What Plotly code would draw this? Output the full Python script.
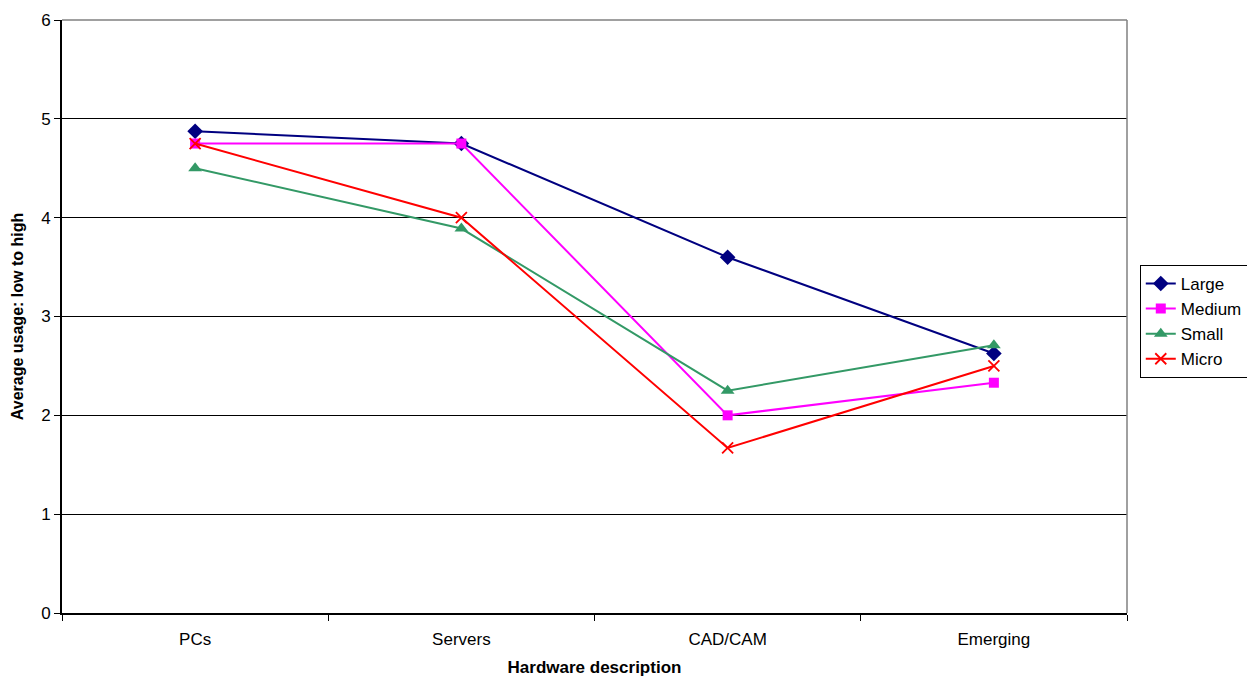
import plotly.graph_objects as go

categories = ["PCs", "Servers", "CAD/CAM", "Emerging"]
large = [4.875, 4.75, 3.6, 2.625]
medium = [4.75, 4.75, 2.0, 2.33]
small = [4.5, 3.89, 2.25, 2.71]
micro = [4.75, 4.0, 1.67, 2.5]
y_ticks = [0, 1, 2, 3, 4, 5, 6]

series = [
    ("Large", large, "#000080", "diamond", 12),
    ("Medium", medium, "#FF00FF", "square", 10),
    ("Small", small, "#339966", "triangle-up", 12),
    ("Micro", micro, "#FF0000", "x-thin", 11),
]

fig = go.Figure()
for name, vals, color, sym, sz in series:
    marker = dict(symbol=sym, size=sz, color=color)
    if sym == "x-thin":
        marker["line"] = dict(color=color, width=1.8)
    fig.add_trace(go.Scatter(
        x=categories, y=vals, name=name, mode="lines+markers",
        line=dict(color=color, width=2), marker=marker,
    ))

font = "Liberation Sans, Arial, sans-serif"
fig.update_layout(
    width=1247, height=677,
    margin=dict(l=62, r=120, t=20, b=64, autoexpand=False),
    paper_bgcolor="white", plot_bgcolor="white",
    font=dict(family=font, size=17, color="black"),
    showlegend=True,
    legend=dict(x=1.012, y=0.587, xanchor="left", yanchor="top",
                bordercolor="black", borderwidth=1, bgcolor="white",
                font=dict(size=17), tracegroupgap=0, itemwidth=30),
    xaxis=dict(
        type="category", range=[-0.5, 3.5], showgrid=False,
        tickson="boundaries", ticks="outside", ticklen=6, tickcolor="black",
        showline=True, linecolor="black", linewidth=2,
        ticklabelstandoff=10,
        title=dict(text="<b>Hardware description</b>", standoff=14, font=dict(size=17)),
        tickfont=dict(size=17),
    ),
    yaxis=dict(
        range=[0, 6], tickvals=y_ticks, showgrid=True, gridcolor="black", gridwidth=1,
        ticks="outside", ticklen=6, tickcolor="black",
        showline=True, linecolor="black", linewidth=2, zeroline=False,
        title=dict(text="<b>Average usage: low to high</b>", standoff=14, font=dict(size=16)),
        tickfont=dict(size=17),
    ),
    shapes=[
        dict(type="line", xref="paper", yref="paper", x0=0, x1=1, y0=1, y1=1,
             line=dict(color="#808080", width=1.5), layer="above"),
        dict(type="line", xref="paper", yref="paper", x0=1, x1=1, y0=0, y1=1,
             line=dict(color="#808080", width=1.5), layer="above"),
    ],
)

fig.write_html("out.html")
